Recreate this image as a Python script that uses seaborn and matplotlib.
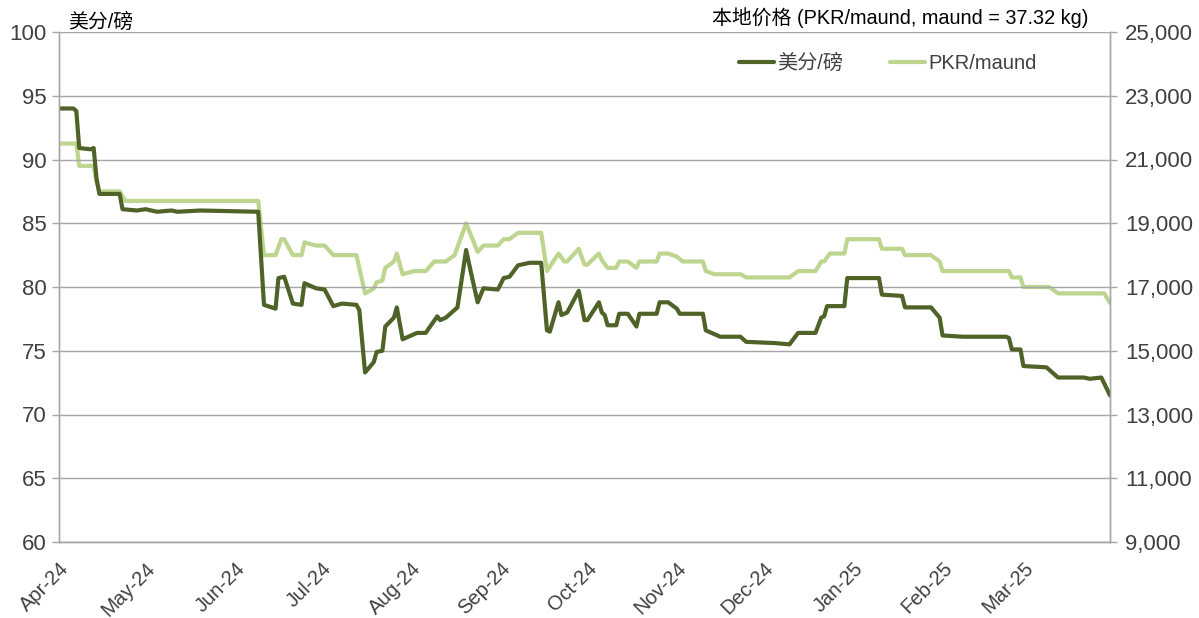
import numpy as np
import pandas as pd
import matplotlib
matplotlib.use("Agg")
import matplotlib.pyplot as plt
from matplotlib.ticker import FuncFormatter, MultipleLocator, FixedLocator
import seaborn as sns

# --- data (breakpoints of each line) ---
usc_dates = [
    "2024-04-01", "2024-04-06", "2024-04-07", "2024-04-08", "2024-04-12", "2024-04-13",
    "2024-04-14", "2024-04-15", "2024-04-22", "2024-04-23", "2024-04-28", "2024-05-01",
    "2024-05-05", "2024-05-10", "2024-05-12", "2024-05-20", "2024-06-09", "2024-06-11",
    "2024-06-15", "2024-06-16", "2024-06-18", "2024-06-21", "2024-06-24", "2024-06-25",
    "2024-06-29", "2024-07-02", "2024-07-05", "2024-07-08", "2024-07-13", "2024-07-14",
    "2024-07-16", "2024-07-19", "2024-07-20", "2024-07-22", "2024-07-23", "2024-07-26",
    "2024-07-27", "2024-07-29", "2024-07-30", "2024-08-03", "2024-08-06", "2024-08-10",
    "2024-08-11", "2024-08-13", "2024-08-17", "2024-08-20", "2024-08-22", "2024-08-24",
    "2024-08-26", "2024-08-31", "2024-09-02", "2024-09-04", "2024-09-07", "2024-09-11",
    "2024-09-15", "2024-09-17", "2024-09-18", "2024-09-21", "2024-09-22", "2024-09-24",
    "2024-09-28", "2024-09-30", "2024-10-01", "2024-10-05", "2024-10-06", "2024-10-07",
    "2024-10-08", "2024-10-11", "2024-10-12", "2024-10-15", "2024-10-18", "2024-10-19",
    "2024-10-25", "2024-10-26", "2024-10-29", "2024-11-01", "2024-11-02", "2024-11-10",
    "2024-11-11", "2024-11-13", "2024-11-16", "2024-11-23", "2024-11-25", "2024-12-05",
    "2024-12-10", "2024-12-13", "2024-12-19", "2024-12-21", "2024-12-22", "2024-12-23",
    "2024-12-29", "2024-12-30", "2025-01-10", "2025-01-11", "2025-01-18", "2025-01-19",
    "2025-01-28", "2025-01-31", "2025-02-01", "2025-02-08", "2025-02-23", "2025-02-24",
    "2025-02-25", "2025-02-28", "2025-03-01", "2025-03-09", "2025-03-13", "2025-03-22",
    "2025-03-24", "2025-03-28", "2025-03-31",
]
usc_vals = [
    94.0, 94.0, 93.8, 90.9, 90.8, 90.9,
    88.5, 87.3, 87.3, 86.1, 86.0, 86.1,
    85.9, 86.0, 85.9, 86.0, 85.9, 78.6,
    78.3, 80.7, 80.8, 78.7, 78.6, 80.3,
    79.9, 79.8, 78.5, 78.7, 78.6, 78.2,
    73.3, 74.1, 74.9, 75.0, 76.9, 77.6,
    78.4, 75.9, 76.0, 76.4, 76.4, 77.7,
    77.4, 77.6, 78.4, 82.9, 80.8, 78.8,
    79.9, 79.8, 80.7, 80.8, 81.7, 81.9,
    81.9, 76.6, 76.5, 78.8, 77.8, 78.0,
    79.7, 77.4, 77.4, 78.8, 78.0, 77.8,
    77.0, 77.0, 77.9, 77.9, 76.9, 77.9,
    77.9, 78.8, 78.8, 78.3, 77.9, 77.9,
    76.6, 76.4, 76.1, 76.1, 75.7, 75.6,
    75.5, 76.4, 76.4, 77.6, 77.7, 78.5,
    78.5, 80.7, 80.7, 79.4, 79.3, 78.4,
    78.4, 77.6, 76.2, 76.1, 76.1, 76.0,
    75.1, 75.1, 73.8, 73.7, 72.9, 72.9,
    72.8, 72.9, 71.5,
]

pkr_dates = [
    "2024-04-01", "2024-04-07", "2024-04-08", "2024-04-13", "2024-04-14", "2024-04-15",
    "2024-04-22", "2024-04-24", "2024-06-09", "2024-06-11", "2024-06-15", "2024-06-17",
    "2024-06-18", "2024-06-21", "2024-06-24", "2024-06-25", "2024-06-29", "2024-07-02",
    "2024-07-05", "2024-07-13", "2024-07-16", "2024-07-19", "2024-07-20", "2024-07-22",
    "2024-07-23", "2024-07-26", "2024-07-27", "2024-07-29", "2024-08-02", "2024-08-06",
    "2024-08-09", "2024-08-13", "2024-08-16", "2024-08-20", "2024-08-24", "2024-08-26",
    "2024-08-31", "2024-09-02", "2024-09-04", "2024-09-07", "2024-09-15", "2024-09-17",
    "2024-09-21", "2024-09-23", "2024-09-24", "2024-09-28", "2024-09-30", "2024-10-01",
    "2024-10-05", "2024-10-06", "2024-10-08", "2024-10-11", "2024-10-12", "2024-10-15",
    "2024-10-18", "2024-10-19", "2024-10-25", "2024-10-26", "2024-10-29", "2024-11-01",
    "2024-11-03", "2024-11-10", "2024-11-11", "2024-11-14", "2024-11-23", "2024-11-25",
    "2024-12-10", "2024-12-13", "2024-12-19", "2024-12-21", "2024-12-22", "2024-12-24",
    "2024-12-29", "2024-12-30", "2025-01-10", "2025-01-11", "2025-01-18", "2025-01-19",
    "2025-01-28", "2025-01-31", "2025-02-01", "2025-02-24", "2025-02-25", "2025-02-28",
    "2025-03-01", "2025-03-10", "2025-03-13", "2025-03-29", "2025-03-31",
]
pkr_vals = [
    21500, 21500, 20800, 20800, 20300, 20000,
    20000, 19700, 19700, 18000, 18000, 18500,
    18500, 18000, 18000, 18400, 18300, 18300,
    18000, 18000, 16800, 16950, 17150, 17200,
    17600, 17800, 18050, 17400, 17500, 17500,
    17800, 17800, 18000, 19000, 18100, 18300,
    18300, 18500, 18500, 18700, 18700, 17500,
    18050, 17800, 17800, 18200, 17700, 17700,
    18050, 17850, 17600, 17600, 17800, 17800,
    17600, 17800, 17800, 18050, 18050, 17950,
    17800, 17800, 17500, 17400, 17400, 17300,
    17300, 17500, 17500, 17800, 17800, 18050,
    18050, 18500, 18500, 18200, 18200, 18000,
    18000, 17800, 17500, 17500, 17300, 17300,
    17000, 17000, 16800, 16800, 16500,
]

month_ticks = ["2024-04-01", "2024-05-01", "2024-06-01", "2024-07-01", "2024-08-01",
               "2024-09-01", "2024-10-01", "2024-11-01", "2024-12-01", "2025-01-01",
               "2025-02-01", "2025-03-01"]
month_labels = ["Apr-24", "May-24", "Jun-24", "Jul-24", "Aug-24", "Sep-24",
                "Oct-24", "Nov-24", "Dec-24", "Jan-25", "Feb-25", "Mar-25"]
right_ticks = [9000, 11000, 13000, 15000, 17000, 19000, 21000, 23000, 25000]

left_label = "美分/磅"
right_label = "本地价格 (PKR/maund, maund = 37.32 kg)"
series_names = ["美分/磅", "PKR/maund"]

DARK = "#4F6228"
LIGHT = "#BDD58F"
GRID = "#A6A6A6"
TXT = "#404040"

sns.set_style("white")
plt.rcParams["font.family"] = ["Liberation Sans", "Noto Sans CJK SC", "DejaVu Sans"]

usc_df = pd.DataFrame({"date": pd.to_datetime(usc_dates), "value": usc_vals})
pkr_df = pd.DataFrame({"date": pd.to_datetime(pkr_dates), "value": pkr_vals})

fig = plt.figure(figsize=(11.99, 6.18), dpi=100)
ax = fig.add_axes([59 / 1199, 1 - 542 / 618, (1110 - 59) / 1199, (542 - 32) / 618])
ax2 = ax.twinx()

sns.lineplot(data=usc_df, x="date", y="value", ax=ax, color=DARK, linewidth=3.0,
             label=series_names[0], legend=False)
sns.lineplot(data=pkr_df, x="date", y="value", ax=ax2, color=LIGHT, linewidth=3.0,
             label=series_names[1], legend=False)

# dark line drawn above the light one
ax.set_zorder(ax2.get_zorder() + 1)
ax.patch.set_visible(False)

ax.set_xlim(pd.Timestamp("2024-04-01"), pd.Timestamp("2025-03-31"))
ax.set_ylim(60, 100)
ax2.set_ylim(9000, 25000)
ax.yaxis.set_major_locator(MultipleLocator(5))
ax2.yaxis.set_major_locator(FixedLocator(right_ticks))
ax2.yaxis.set_major_formatter(FuncFormatter(lambda v, p: f"{int(v):,}"))

tick_pos = list(pd.to_datetime(month_ticks)) + [pd.Timestamp("2025-03-31")]
ax.set_xticks(tick_pos)
ax.set_xticklabels(month_labels + [""], rotation=45, ha="right", rotation_mode="anchor")

ax.grid(axis="y", color=GRID, linewidth=1.0)
ax.set_axisbelow(True)
ax.set_xlabel("")
ax.set_ylabel("")
ax2.set_ylabel("")

for a in (ax, ax2):
    a.spines["top"].set_visible(False)
    for side in ("left", "right", "bottom"):
        a.spines[side].set_color(GRID)
        a.spines[side].set_linewidth(1.0)
    a.tick_params(axis="both", colors=GRID, length=5, width=1.0, labelcolor=TXT,
                  labelsize=16, direction="out")
ax.tick_params(axis="x", labelsize=14.5, pad=7)
ax.tick_params(axis="y", pad=4)
ax2.tick_params(axis="y", pad=6)

fig.text(68 / 1199, 1 - 22 / 618, left_label, ha="left", va="center", fontsize=14.3, color="#000000")
fig.text(1089 / 1199, 1 - 18 / 618, right_label, ha="right", va="center", fontsize=14.3, color="#000000")

handles = ax.get_lines()[:1] + ax2.get_lines()[:1]
ax.legend(handles, series_names, loc="center left", bbox_to_anchor=(0.63, 0.938), ncol=2,
          frameon=False, fontsize=14.5, labelcolor=TXT, handlelength=1.75, handletextpad=0.15,
          columnspacing=2.3)

fig.savefig("out.png", dpi=100)
